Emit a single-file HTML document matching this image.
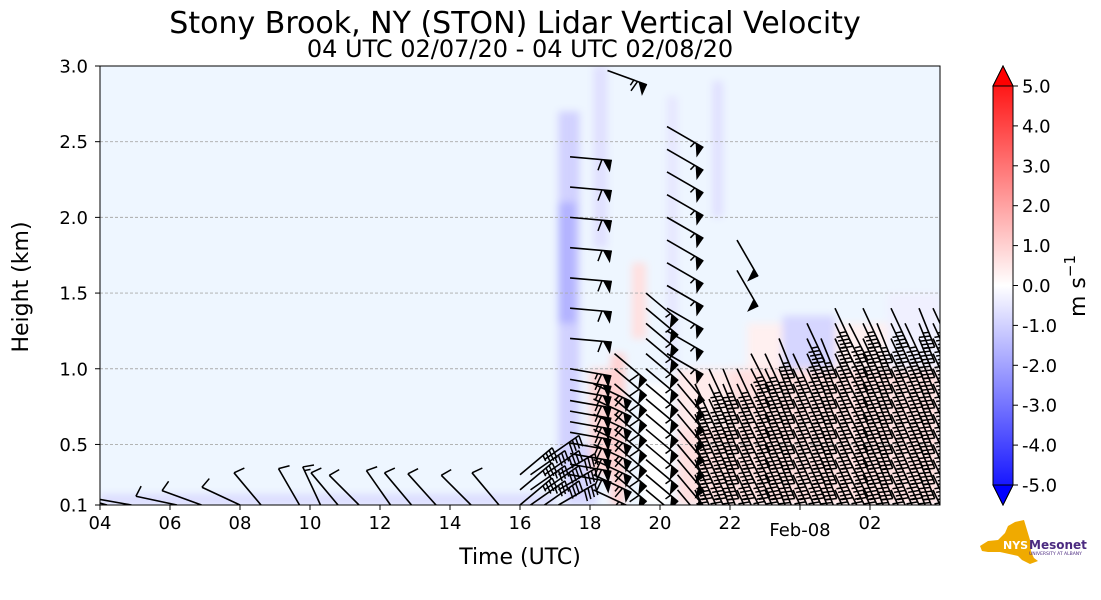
<!DOCTYPE html>
<html><head><meta charset="utf-8"><style>
body{margin:0;background:#fff;}
svg{display:block;font-family:"DejaVu Sans","Liberation Sans",sans-serif;}
</style></head><body>
<svg id="chart" width="1101" height="600" viewBox="0 0 1101 600">
<defs>
<clipPath id="plotclip"><rect x="100" y="66" width="840" height="439"/></clipPath>
<filter id="blur" x="-5%" y="-5%" width="110%" height="110%"><feGaussianBlur stdDeviation="4"/></filter>
<linearGradient id="cbgrad" x1="0" y1="1" x2="0" y2="0">
<stop offset="0" stop-color="#0000ff"/><stop offset="0.5" stop-color="#ffffff"/><stop offset="1" stop-color="#ff0000"/>
</linearGradient>
</defs>
<text x="515" y="33" font-size="30" text-anchor="middle" fill="#000">Stony Brook, NY (STON) Lidar Vertical Velocity</text>
<text x="520" y="57" font-size="24" text-anchor="middle" fill="#000">04 UTC 02/07/20 - 04 UTC 02/08/20</text>
<rect x="100" y="66" width="840" height="439" fill="#eef6ff"/>
<g id="field" clip-path="url(#plotclip)"><g id="fieldInner" filter="url(#blur)"></g></g>
<g id="grid"></g>
<g id="barbs" clip-path="url(#plotclip)"></g>
<rect x="100" y="66" width="840" height="439" fill="none" stroke="#000" stroke-width="1"/>
<g id="xaxis"></g>
<g id="yaxis"></g>
<text x="520" y="564" font-size="22" text-anchor="middle">Time (UTC)</text>
<text transform="translate(28,287) rotate(-90)" font-size="22" text-anchor="middle">Height (km)</text>
<g id="colorbar">
<polygon points="993,86 1003,66 1013,86 1013,485 1003,505 993,485" fill="url(#cbgrad)" stroke="#000" stroke-width="1"/>
<polygon points="993,86 1003,66 1013,86" fill="#ff0000" stroke="#000" stroke-width="1"/>
<polygon points="993,485 1003,505 1013,485" fill="#0000ff" stroke="#000" stroke-width="1"/>
</g>
<text transform="translate(1085,286) rotate(-90)" font-size="22" text-anchor="middle">m s<tspan dy="-10" font-size="15">−1</tspan></text>
<g id="logo">
<polygon points="980,546 988,541 998,540 1005,533 1008,526 1015,522 1024,520 1027,530 1030,540 1031,552 1034,558 1038,561 1030,564 1022,560 1018,556 1000,552 988,552 982,551" fill="#f0aa00"/>
<text x="1003" y="549" font-size="11" font-weight="bold" fill="#fff">NYS</text>
<text x="1029" y="549" font-size="12" font-weight="bold" fill="#4b2a80">Mesonet</text>
<text x="1029" y="555" font-size="4.5" fill="#4b2a80">UNIVERSITY AT ALBANY</text>
</g>
</svg>
<script>
// ---- data ----
const yTicks = [0.1,0.5,1.0,1.5,2.0,2.5,3.0];
const yTickLabels = ["0.1","0.5","1.0","1.5","2.0","2.5","3.0"];
const gridKm = [0.5,1.0,1.5,2.0,2.5];
const xTicks = [0,2,4,6,8,10,12,14,16,18,20,22];   // hours since 04 UTC
const xTickLabels = ["04","06","08","10","12","14","16","18","20","22","Feb-08","02"];
const cbTicks = [5,4,3,2,1,0,-1,-2,-3,-4,-5];
const cbTickLabels = ["5.0","4.0","3.0","2.0","1.0","0.0","-1.0","-2.0","-3.0","-4.0","-5.0"];
// velocity regions (hours since 04, km, m/s)
const regT0 = [0, 13.1, 13.1, 14.1, 14.6, 15.2, 16.2, 17.5, 15.5, 16.5, 18.5, 19.5, 22.5, 13.3, 14.0, 16.6];
const regT1 = [13, 13.7, 13.6, 14.5, 15.0, 15.6, 16.5, 17.8, 16.3, 24,  24,  21.0, 24,  14.2, 14.6, 18.0];
const regH0 = [0.1, 0.3, 1.3, 1.8, 0.1, 1.2, 1.0, 2.0, 0.1, 0.1, 1.0, 1.0, 1.0, 0.1, 0.3, 0.6];
const regH1 = [0.17, 2.7, 2.1, 3.0, 1.1, 1.7, 2.8, 2.9, 0.9, 1.0, 1.3, 1.35, 1.5, 0.5, 1.0, 1.0];
const regV  = [-0.7, -0.9, -1.5, -0.6, 0.9, 0.6, -0.5, -0.6, 0.0, 0.6, 0.3, -0.8, -0.3, -0.8, 0.8, 0.4];
// wind barb columns (hours since 04, km, kt, deg)
const colT   = [0.2,0.9,2.2,2.9,4.0,4.6,5.7,6.3,6.8,7.4,8.3,8.9,9.6,10.6,11.4,12.0,12.3,12.7,13.1,
                13.43,13.43,14.1,14.7,14.5,15.6,16.2,16.5,18.2,
                17.0,17.4,17.8,18.2,18.6,19.0,19.4,19.8,20.2,20.6,21.0,21.4,21.8,22.2,22.6,23.0,23.4,23.8];
const colBot = [0.1,0.1,0.1,0.1,0.1,0.1,0.1,0.1,0.1,0.1,0.1,0.1,0.1,0.1,0.1,0.1,0.1,0.1,0.1,
                0.3,1.2,0.1,0.3,2.97,0.2,1.1,0.1,1.65,
                0.1,0.1,0.1,0.1,0.1,0.1,0.1,0.1,0.1,0.1,0.1,0.1,0.1,0.1,0.1,0.1,0.1,0.1];
const colTop = [0.1,0.1,0.1,0.1,0.1,0.1,0.1,0.1,0.1,0.1,0.1,0.1,0.1,0.1,0.1,0.3,0.3,0.4,0.3,
                1.0,2.5,0.9,1.1,2.97,1.5,2.6,1.0,1.85,
                0.9,1.0,1.0,1.0,1.1,1.1,1.2,1.1,1.3,1.2,1.4,1.3,1.4,1.3,1.4,1.3,1.4,1.4];
const colStep= [0.1,0.1,0.1,0.1,0.1,0.1,0.1,0.1,0.1,0.1,0.1,0.1,0.1,0.1,0.1,0.1,0.1,0.1,0.1,
                0.07,0.2,0.1,0.1,0.1,0.1,0.15,0.1,0.2,
                0.1,0.1,0.1,0.1,0.1,0.1,0.1,0.1,0.1,0.1,0.1,0.1,0.1,0.1,0.1,0.1,0.1,0.1];
const colSpd = [10,10,10,10,10,10,10,15,10,10,10,10,10,10,10,35,35,40,40,
                65,60,65,60,65,55,55,50,50,
                45,45,45,45,45,45,45,45,45,45,45,45,45,45,45,45,45,45];
const colDir = [285,280,282,290,295,320,330,335,320,315,325,320,318,315,320,50,55,55,60,
                100,95,115,130,110,130,120,140,150,
                155,155,158,155,153,155,158,155,155,158,155,153,155,158,155,155,158,155];

// ---- scales ----
const X = h => 100 + h * 35;
const Y = km => 505 - (km - 0.1) * 151.38;
const CBY = v => 285.5 - v * 39.9;
const NS = "http://www.w3.org/2000/svg";
function mk(tag, attrs, parent){ const e=document.createElementNS(NS,tag); for(const k in attrs) e.setAttribute(k,attrs[k]); parent.appendChild(e); return e; }
function vColor(v){
  const f = Math.min(1, Math.abs(v)/5);
  const w = Math.round(255*(1-f));
  return v>=0 ? `rgb(255,${w},${w})` : `rgb(${w},${w},255)`;
}

// field
const fieldInner = document.getElementById('fieldInner');
for(let i=0;i<regT0.length;i++){
  const r = mk('rect',{x:X(regT0[i]),y:Y(regH1[i]),width:X(regT1[i])-X(regT0[i]),height:Y(regH0[i])-Y(regH1[i]),fill:vColor(regV[i])},fieldInner);
  
  
}
// grid
const grid = document.getElementById('grid');
gridKm.forEach(k=>{
  const l = mk('line',{x1:100,x2:940,y1:Y(k),y2:Y(k),stroke:'#aaa','stroke-width':0.9,'stroke-dasharray':'3,2'},grid);
  
  
});
// axes
const yaxis = document.getElementById('yaxis');
yTicks.forEach((k,i)=>{
  mk('line',{x1:95,x2:100,y1:Y(k),y2:Y(k),stroke:'#000'},yaxis);
  const t = mk('text',{x:88,y:Y(k)+6.5,'font-size':18,'text-anchor':'end'},yaxis);
  t.textContent = yTickLabels[i];
  
  
});
const xaxis = document.getElementById('xaxis');
xTicks.forEach((h,i)=>{
  mk('line',{x1:X(h),x2:X(h),y1:505,y2:510,stroke:'#000'},xaxis);
  const t = mk('text',{x:X(h),y:xTickLabels[i].length>2?536:529,'font-size':18,'text-anchor':'middle'},xaxis);
  t.textContent = xTickLabels[i];
  
  
});
// colorbar ticks
const cb = document.getElementById('colorbar');
cbTicks.forEach((v,i)=>{
  mk('line',{x1:1013,x2:1018,y1:CBY(v),y2:CBY(v),stroke:'#000'},cb);
  const t = mk('text',{x:1022,y:CBY(v)+6.5,'font-size':18},cb);
  t.textContent = cbTickLabels[i];
  
  
});
// barbs
const barbsG = document.getElementById('barbs');
function drawBarb(t,h,spd,dir){
  const L=42, ox=X(t), oy=Y(h);
  const rad=dir*Math.PI/180;
  const ux=Math.sin(rad), uy=-Math.cos(rad);
  const px=-uy, py=ux;
  const g = mk('g',{},barbsG);
  
  
  const ex=ox+ux*L, ey=oy+uy*L;
  mk('line',{x1:ox,y1:oy,x2:ex,y2:ey,stroke:'#000','stroke-width':1.6},g);
  let s=Math.round(spd/5)*5, pos=L;
  while(s>=50){
    const ax=ox+ux*pos, ay=oy+uy*pos, bx=ox+ux*(pos-9), by=oy+uy*(pos-9);
    const cx=ox+ux*(pos-1)+px*12, cy=oy+uy*(pos-1)+py*12;
    mk('polygon',{points:`${ax},${ay} ${cx},${cy} ${bx},${by}`,fill:'#000'},g);
    pos-=10; s-=50;
  }
  while(s>=10){
    const ax=ox+ux*pos, ay=oy+uy*pos;
    mk('line',{x1:ax,y1:ay,x2:ax+px*11-ux*3,y2:ay+py*11-uy*3,stroke:'#000','stroke-width':1.5},g);
    pos-=4; s-=10;
  }
  if(s>=5){
    if(pos===L) pos-=4;
    const ax=ox+ux*pos, ay=oy+uy*pos;
    mk('line',{x1:ax,y1:ay,x2:ax+px*6-ux*1.5,y2:ay+py*6-uy*1.5,stroke:'#000','stroke-width':1.5},g);
  }
}
for(let c=0;c<colT.length;c++){
  for(let h=colBot[c]; h<=colTop[c]+1e-6; h+=colStep[c]){
    drawBarb(colT[c],h,colSpd[c],colDir[c]);
  }
}
</script>
</body></html>
